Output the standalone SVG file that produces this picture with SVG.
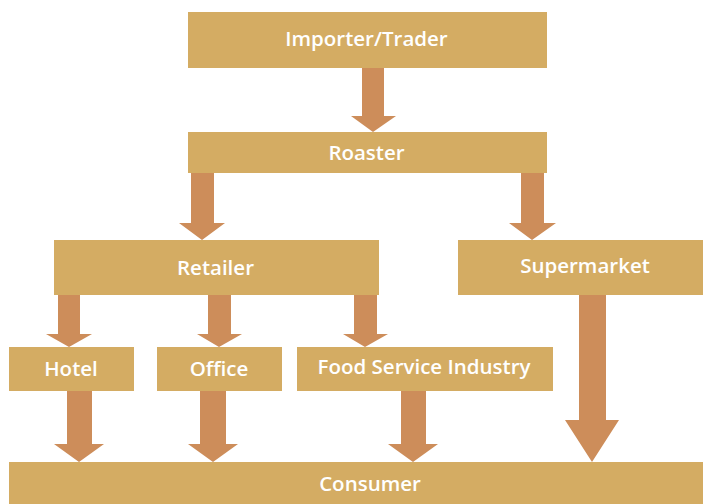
<svg xmlns="http://www.w3.org/2000/svg" width="703" height="504" viewBox="0 0 703 504">
  <style>
    .box { fill: #D4AC63; }
    .arrow { fill: #CD8D5A; }
    .label { fill: #FFFFFF; font-family: "Open Sans", Lato, "Liberation Sans", sans-serif; font-size: 20.5px; font-weight: 600; text-anchor: middle; }
  </style>
  <rect width="703" height="504" fill="#FFFFFF"/>

  <!-- Block arrows between the stages of the chain -->
  <g id="connectors">
    <!-- Importer/Trader to Roaster -->
    <polygon class="arrow" points="362,68 384,68 384,116 396,116 373,132 351,116 362,116"/>
    <!-- Roaster to Retailer -->
    <polygon class="arrow" points="191,173 214,173 214,223 225,223 202,240 179,223 191,223"/>
    <!-- Roaster to Supermarket -->
    <polygon class="arrow" points="521,173 544,173 544,223 556,223 532,240 509,223 521,223"/>
    <!-- Retailer to Hotel -->
    <polygon class="arrow" points="58,295 80,295 80,334 92,334 69,347 46,334 58,334"/>
    <!-- Retailer to Office -->
    <polygon class="arrow" points="208,295 231,295 231,334 242,334 219,347 197,334 208,334"/>
    <!-- Retailer to Food Service Industry -->
    <polygon class="arrow" points="354,295 377,295 377,334 388,334 365,347 343,334 354,334"/>
    <!-- Hotel to Consumer -->
    <polygon class="arrow" points="67,391 92,391 92,444 104,444 79,462 54,444 67,444"/>
    <!-- Office to Consumer -->
    <polygon class="arrow" points="200,391 226,391 226,444 238,444 213,462 188,444 200,444"/>
    <!-- Food Service Industry to Consumer -->
    <polygon class="arrow" points="401,391 426,391 426,444 438,444 413,462 388,444 401,444"/>
    <!-- Supermarket to Consumer -->
    <polygon class="arrow" points="579,295 606,295 606,420 619,420 592,462 565,420 579,420"/>
  </g>

  <g id="importer">
    <rect class="box" x="188" y="12" width="359" height="56"/>
    <text class="label" x="366.5" y="46">Importer/Trader</text>
  </g>
  <g id="roaster">
    <rect class="box" x="188" y="132" width="359" height="41"/>
    <text class="label" x="366.5" y="160">Roaster</text>
  </g>
  <g id="retailer">
    <rect class="box" x="54" y="240" width="325" height="55"/>
    <text class="label" x="215.5" y="275">Retailer</text>
  </g>
  <g id="supermarket">
    <rect class="box" x="458" y="240" width="245" height="55"/>
    <text class="label" x="585" y="273">Supermarket</text>
  </g>
  <g id="hotel">
    <rect class="box" x="9" y="347" width="125" height="44"/>
    <text class="label" x="71" y="375.5">Hotel</text>
  </g>
  <g id="office">
    <rect class="box" x="157" y="347" width="125" height="44"/>
    <text class="label" x="219" y="375.5">Office</text>
  </g>
  <g id="food-service">
    <rect class="box" x="297" y="347" width="256" height="44"/>
    <text class="label" x="424" y="373.5">Food Service Industry</text>
  </g>
  <g id="consumer">
    <rect class="box" x="9" y="462" width="694" height="42"/>
    <text class="label" x="370" y="491">Consumer</text>
  </g>
</svg>
